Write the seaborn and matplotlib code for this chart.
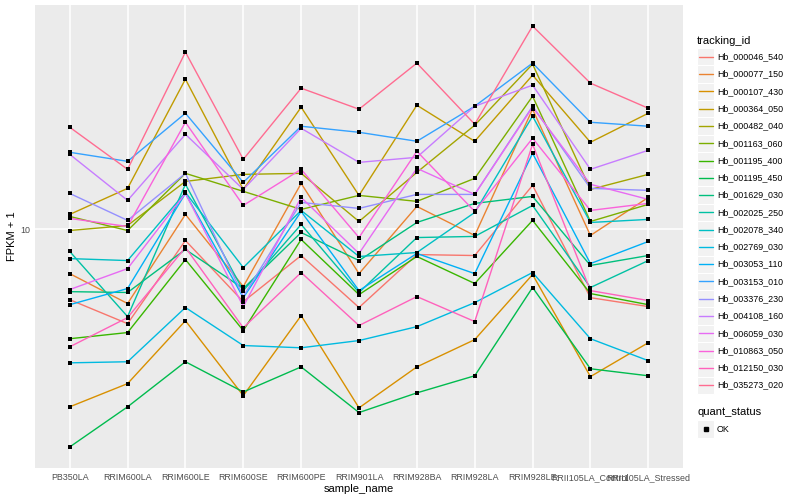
import matplotlib
matplotlib.use("Agg")
import matplotlib.pyplot as plt
from matplotlib.patches import Rectangle
from matplotlib.lines import Line2D
from matplotlib.ticker import NullLocator, FixedLocator
import numpy as np
import pandas as pd
import seaborn as sns

samples = ["PB350LA", "RRIM600LA", "RRIM600LE", "RRIM600SE", "RRIM600PE", "RRIM901LA",
           "RRIM928BA", "RRIM928LA", "RRIM928LE", "RRII105LA_Control", "RRII105LA_Stressed"]

tracking_ids = ["Hb_000046_540", "Hb_000077_150", "Hb_000107_430", "Hb_000364_050",
                "Hb_000482_040", "Hb_001163_060", "Hb_001195_400", "Hb_001195_450",
                "Hb_001629_030", "Hb_002025_250", "Hb_002078_340", "Hb_002769_030",
                "Hb_003053_110", "Hb_003153_010", "Hb_003376_230", "Hb_004108_160",
                "Hb_006059_030", "Hb_010863_050", "Hb_012150_030", "Hb_035273_020"]

palette = ["#F8766D", "#EA8331", "#D89000", "#C09B00", "#A3A500", "#7CAE00", "#39B600",
           "#00BB4E", "#00BF7D", "#00C1A3", "#00BFC4", "#00BAE0", "#00B0F6", "#35A2FF",
           "#9590FF", "#C77CFF", "#E76BF3", "#FA62DB", "#FF62BC", "#FF6C91"]

# FPKM + 1 per gene, in the order of `samples`
hb_000046_540 = [5.84, 4.86, 9.19, 5.75, 8.19, 5.50, 8.25, 8.19, 14.02, 5.93, 5.54]
hb_000077_150 = [7.13, 5.67, 11.22, 6.46, 14.23, 7.13, 11.93, 9.55, 25.12, 9.55, 12.78]
hb_000107_430 = [2.57, 3.07, 4.97, 2.80, 5.17, 2.55, 3.49, 4.30, 7.08, 3.24, 4.20]
hb_000364_050 = [11.22, 13.70, 31.62, 13.59, 25.51, 12.98, 25.90, 19.65, 32.61, 19.50, 24.36]
hb_000482_040 = [9.92, 10.31, 14.45, 15.25, 15.37, 10.63, 15.49, 22.22, 35.48, 13.59, 15.25]
hb_001163_060 = [11.05, 9.92, 15.37, 13.39, 11.66, 12.98, 12.40, 14.79, 27.75, 10.63, 12.12]
hb_001195_400 = [4.33, 4.54, 7.94, 4.61, 9.26, 6.07, 8.13, 6.61, 10.72, 6.12, 5.62]
hb_001195_450 = [1.89, 2.57, 3.63, 2.88, 3.49, 2.46, 2.86, 3.26, 6.41, 3.44, 3.26]
hb_001629_030 = [6.21, 6.17, 8.58, 6.36, 9.77, 7.88, 10.55, 12.21, 12.88, 7.59, 8.19]
hb_002025_250 = [8.45, 5.13, 14.13, 6.26, 10.39, 6.17, 9.40, 9.48, 12.02, 6.41, 7.88]
hb_002078_340 = [8.00, 7.88, 13.28, 7.47, 11.57, 8.13, 8.38, 11.39, 23.81, 10.55, 10.80]
hb_002769_030 = [3.60, 3.63, 5.50, 4.11, 4.04, 4.27, 4.75, 5.71, 7.19, 4.33, 3.66]
hb_003053_110 = [5.62, 6.36, 13.18, 5.93, 11.48, 6.26, 8.32, 7.13, 17.92, 7.70, 9.12]
hb_003153_010 = [18.06, 16.85, 24.36, 14.34, 22.05, 21.05, 19.65, 25.70, 35.76, 22.73, 22.05]
hb_003376_230 = [13.18, 10.72, 15.37, 5.98, 12.30, 11.75, 13.08, 13.08, 25.70, 13.70, 13.49]
hb_004108_160 = [17.78, 12.49, 20.73, 13.59, 21.71, 16.72, 17.38, 25.70, 30.20, 15.85, 18.34]
hb_006059_030 = [6.31, 7.41, 13.18, 5.54, 12.78, 8.32, 15.97, 13.08, 25.51, 14.13, 12.59]
hb_010863_050 = [10.88, 10.23, 22.73, 12.02, 15.85, 9.40, 18.20, 11.48, 20.11, 11.57, 12.21]
hb_012150_030 = [4.07, 5.09, 8.71, 4.71, 7.19, 4.79, 5.98, 4.94, 19.20, 6.26, 5.80]
hb_035273_020 = [21.88, 15.85, 38.90, 17.11, 29.51, 25.12, 35.76, 22.39, 47.50, 30.67, 25.31]

series = [hb_000046_540, hb_000077_150, hb_000107_430, hb_000364_050, hb_000482_040,
          hb_001163_060, hb_001195_400, hb_001195_450, hb_001629_030, hb_002025_250,
          hb_002078_340, hb_002769_030, hb_003053_110, hb_003153_010, hb_003376_230,
          hb_004108_160, hb_006059_030, hb_010863_050, hb_012150_030, hb_035273_020]

quant_status = ["OK"]

rows = []
for tid, vals in zip(tracking_ids, series):
    for s, v in zip(samples, vals):
        rows.append({"tracking_id": tid, "sample_name": s, "fpkm1": v, "quant_status": "OK"})
df = pd.DataFrame(rows)

sns.set_theme(style="darkgrid")
plt.rcParams["font.family"] = ["Liberation Sans", "DejaVu Sans"]

W, H = 800, 500
fig = plt.figure(figsize=(W / 100, H / 100), dpi=100)
fig.patch.set_facecolor("white")
left, right, top, bottom = 35, 683, 5, 468
ax = fig.add_axes([left / W, 1 - bottom / H, (right - left) / W, (bottom - top) / H])
ax.set_facecolor("#EBEBEB")

sns.lineplot(data=df, x="sample_name", y="fpkm1", hue="tracking_id", hue_order=tracking_ids,
             palette=dict(zip(tracking_ids, palette)), estimator=None, sort=False,
             legend=False, linewidth=1.0, ax=ax)
sns.scatterplot(data=df, x="sample_name", y="fpkm1", color="black", marker="s", s=10,
                linewidth=0, legend=False, ax=ax, zorder=3)

ax.set_yscale("log")
lo, hi = np.log10(df["fpkm1"].min()), np.log10(df["fpkm1"].max())
pad = 0.05 * (hi - lo)
ax.set_ylim(10 ** (lo - pad), 10 ** (hi + pad))
ax.set_xlim(-0.6, len(samples) - 1 + 0.6)
ax.yaxis.set_major_locator(FixedLocator([10]))
ax.set_yticklabels(["10"])
ax.yaxis.set_minor_locator(NullLocator())
ax.xaxis.set_minor_locator(NullLocator())

ax.grid(True, which="major", color="white", linewidth=1.1)
ax.set_axisbelow(True)
for sp in ax.spines.values():
    sp.set_visible(False)
ax.tick_params(axis="both", which="major", length=2.2, width=0.8, color="#333333",
               labelsize=6.4, labelcolor="#4D4D4D", pad=1.5)
ax.tick_params(axis="both", which="minor", length=0)
ax.set_xlabel("sample_name", fontsize=8, color="black", labelpad=1.5)
ax.set_ylabel("FPKM + 1", fontsize=8, color="black", labelpad=2)

# legend drawn in figure pixel coordinates
def fx(px):
    return px / W

def fy(py):
    return 1 - py / H

fig.text(fx(697), fy(40.5), "tracking_id", fontsize=8, va="center", ha="left", color="black")
key = 17.28
y0 = 48.2
for i, (tid, col) in enumerate(zip(tracking_ids, palette)):
    yt = y0 + i * key
    fig.patches.append(Rectangle((fx(697), fy(yt + key)), key / W, key / H,
                                 transform=fig.transFigure, facecolor="#F2F2F2",
                                 edgecolor="white", linewidth=0.8))
    yc = yt + key / 2
    fig.lines.append(Line2D([fx(698.7), fx(712.6)], [fy(yc), fy(yc)], transform=fig.transFigure,
                            color=col, linewidth=1.0))
    fig.text(fx(717), fy(yc), tid, fontsize=6.4, va="center", ha="left", color="black")

fig.text(fx(697), fy(412), "quant_status", fontsize=8, va="center", ha="left", color="black")
yt = 420.5
fig.patches.append(Rectangle((fx(697), fy(yt + key)), key / W, key / H,
                             transform=fig.transFigure, facecolor="#F2F2F2",
                             edgecolor="white", linewidth=0.8))
fig.lines.append(Line2D([fx(697 + key / 2)], [fy(yt + key / 2)], transform=fig.transFigure,
                        marker="s", markersize=3, color="black", linestyle="none"))
fig.text(fx(717), fy(yt + key / 2), quant_status[0], fontsize=6.4, va="center", ha="left",
         color="black")

fig.savefig("out.png", dpi=100)
